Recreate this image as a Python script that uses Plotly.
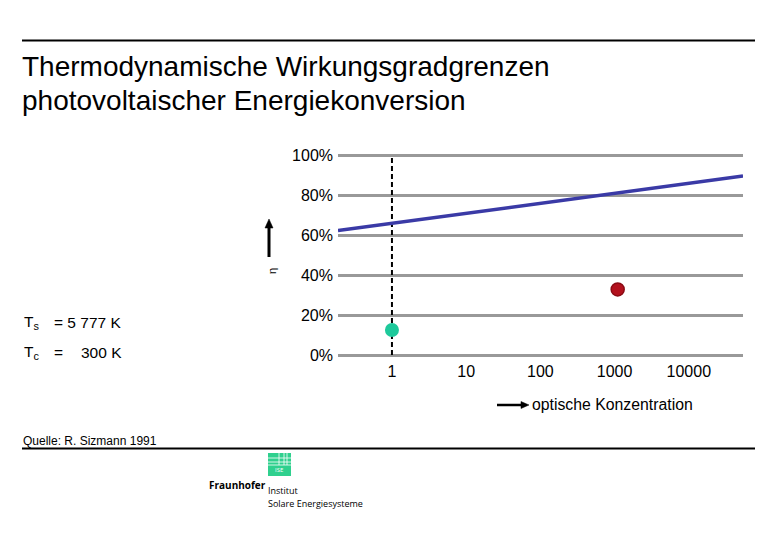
import math
import plotly.graph_objects as go

# ---- data ----
conc_line = [0.1875, 53700]          # optische Konzentration (line end points)
eta_line = [62.2, 89.5]              # Wirkungsgrad [%]
conc_ref = [1, 1]                    # dashed reference at 1 sun
eta_ref = [0, 100]
conc_green = [1]
eta_green = [12.5]
conc_red = [1100]
eta_red = [32.8]
y_ticks = [0, 20, 40, 60, 80, 100]
y_ticklabels = ["0%", "20%", "40%", "60%", "80%", "100%"]
x_ticks = [1, 10, 100, 1000, 10000]
x_ticklabels = ["1", "10", "100", "1000", "10000"]

FONT = "Liberation Sans, Arial, sans-serif"
Wfig, Hfig = 780, 540
L, R, T, B = 338, 743, 153, 357
PW, PH = R - L, B - T


def px(x):
    return (x - L) / PW


def py(y):
    return (B - y) / PH


fig = go.Figure()
fig.add_trace(go.Scatter(x=conc_ref, y=eta_ref, mode="lines",
                         line=dict(color="black", width=2, dash="5px,3px"),
                         hoverinfo="skip"))
fig.add_trace(go.Scatter(x=conc_line, y=eta_line, mode="lines",
                         line=dict(color="#3a3aa6", width=3.5)))
fig.add_trace(go.Scatter(x=conc_green, y=eta_green, mode="markers",
                         marker=dict(color="#1ec99b", size=14, line=dict(width=0)),
                         cliponaxis=False))
fig.add_trace(go.Scatter(x=conc_red, y=eta_red, mode="markers",
                         marker=dict(color="#b3111d", size=13,
                                     line=dict(color="#8a0b14", width=1.5)),
                         cliponaxis=False))

fig.update_xaxes(type="log", range=[math.log10(conc_line[0]), math.log10(conc_line[1])],
                 showgrid=False, zeroline=False, showline=False,
                 tickvals=x_ticks, ticktext=x_ticklabels, ticks="",
                 ticklabelstandoff=3,
                 tickfont=dict(family=FONT, size=16, color="black"))
fig.update_yaxes(range=[-1, 101], showgrid=True, gridcolor="#999999", gridwidth=3,
                 zeroline=False, showline=False,
                 tickvals=y_ticks, ticktext=y_ticklabels, ticks="",
                 ticklabelstandoff=4,
                 tickfont=dict(family=FONT, size=16, color="black"))

ann = []


def text(x, y, s, size, anchor="left", color="black", family=FONT, angle=0):
    ann.append(dict(xref="paper", yref="paper", x=px(x), y=py(y), text=s,
                    showarrow=False, xanchor=anchor, yanchor="middle",
                    textangle=angle,
                    font=dict(family=family, size=size, color=color)))


text(20, 67, "Thermodynamische Wirkungsgradgrenzen", 28)
text(20, 100, "photovoltaischer Energiekonversion", 28)
text(22, 322, "T<sub>s</sub>", 15.5)
text(52, 322, "= 5 777 K", 15.5)
text(22, 352, "T<sub>c</sub>", 15.5)
text(52, 352, "=", 15.5)
text(79, 352, "300 K", 15.5)
text(530, 404, "optische Konzentration", 15.8)
text(21, 441, "Quelle: R. Sizmann 1991", 12)
text(272, 271, "η", 11, anchor="center", angle=-90)
# logo texts
text(207, 485, "<b>Fraunhofer</b>", 10, family="Open Sans, sans-serif")
text(266, 490, "Institut", 9, family="Open Sans, sans-serif")
text(266, 503, "Solare Energiesysteme", 9, family="Open Sans, sans-serif")
text(279, 470, "ISE", 6, anchor="center", color="white", family="Open Sans, sans-serif")


def line(x0, y0, x1, y1, color="black", width=2):
    return dict(type="line", xref="paper", yref="paper", x0=px(x0), x1=px(x1),
                y0=py(y0), y1=py(y1), line=dict(color=color, width=width))


def tri(pts):
    d = "M " + " L ".join(f"{px(a):.5f},{py(b):.5f}" for a, b in pts) + " Z"
    return dict(type="path", xref="paper", yref="paper", path=d,
                fillcolor="black", line=dict(color="black", width=0.5))


shapes = [
    line(22, 40.5, 755, 40.5),
    line(22, 448.5, 755, 448.5),
    # eta arrow
    line(269, 257, 269, 227, width=3),
    tri([(265, 228), (273, 228), (269, 219)]),
    # concentration arrow
    line(497, 405, 522, 405, width=2.5),
    tri([(521, 401.5), (521, 408.5), (529, 405)]),
    # logo square
    dict(type="rect", xref="paper", yref="paper", x0=px(268), x1=px(291),
         y0=py(476), y1=py(453), fillcolor="#2fd08e", line=dict(width=0)),
]
for yy in [458, 462, 465]:
    shapes.append(line(268, yy, 291, yy, color="white", width=0.8))
for xx in [279, 284, 287]:
    shapes.append(line(xx, 465, xx, 453, color="white", width=0.8))

fig.update_layout(width=Wfig, height=Hfig,
                  margin=dict(l=L, r=Wfig - R, t=T, b=Hfig - B),
                  paper_bgcolor="white", plot_bgcolor="white",
                  showlegend=False, annotations=ann, shapes=shapes)

fig.write_html("out.html")
